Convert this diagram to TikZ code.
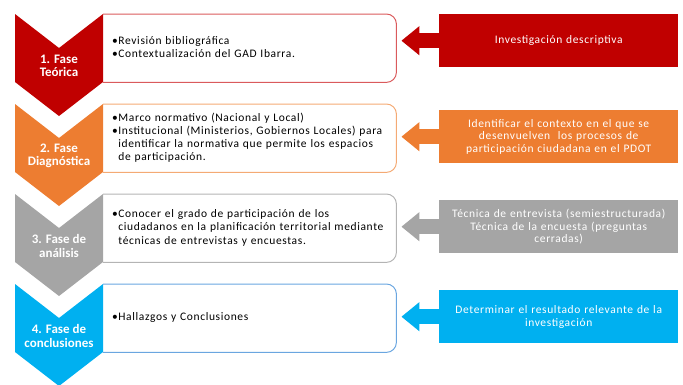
\documentclass[tikz,border=0pt]{standalone}
\usepackage{fontspec}
\setmainfont{Carlito}
\newfontfamily\spacedfont[LetterSpace=5.5]{Carlito}
\usetikzlibrary{arrows.meta}
\definecolor{cRed}{HTML}{C00000}
\definecolor{cRedB}{HTML}{DA5A5C}
\definecolor{cOra}{HTML}{ED7D31}
\definecolor{cOraB}{HTML}{F4AA74}
\definecolor{cGry}{HTML}{A5A5A5}
\definecolor{cGryB}{HTML}{B4B4B4}
\definecolor{cBlu}{HTML}{00B0F0}
\definecolor{cBluB}{HTML}{6AA6E0}
\tikzset{
  phasetext/.style={text=white, font=\bfseries\fontsize{13}{13.5}\selectfont, align=center, inner sep=0pt},
  boxnode/.style={anchor=north west, minimum width=289pt, minimum height=68pt, inner xsep=9pt, inner ysep=0pt, text width=275pt, align=left, font=\spacedfont\fontsize{11.5}{13.2}\selectfont},
  boxborder/.style={draw=#1, line width=1pt, rounded corners=10pt},
  sidebox/.style={fill=#1, anchor=north west, minimum width=239pt, minimum height=53pt, text width=233pt, align=center, text=white, font=\spacedfont\fontsize{11.5}{12.6}\selectfont, inner sep=0pt},
  blockarrow/.style={draw=#1, line width=15pt, -{Triangle[length=18pt,width=28pt]}, shorten >=5pt},
}
\newcommand{\mychevron}[2]{%
  \fill[#2] (15,#1) -- (59,{#1+34}) -- (103,#1) -- (103,{#1+68}) -- (59,{#1+102}) -- (15,{#1+68}) -- cycle;}
\begin{document}
\begin{tikzpicture}[x=1pt,y=-1pt]
\useasboundingbox (0,0) rectangle (683,384);
\clip (0,0) rectangle (683,384);
% content boxes
\node[boxnode] (b1) at (103,14) {\begin{tabular}{@{}l@{\hspace{0.5pt}}l@{}}\textbullet&Revisión bibliográfica\\ \textbullet&Contextualización del GAD Ibarra.\end{tabular}};
\node[boxnode] (b2) at (103,104) {\begin{tabular}{@{}l@{\hspace{0.5pt}}l@{}}\textbullet&Marco normativo (Nacional y Local)\\ \textbullet&Institucional (Ministerios, Gobiernos Locales) para\\ &identificar la normativa que permite los espacios\\ &de participación.\end{tabular}};
\node[boxnode] (b3) at (103,194) {\begin{tabular}{@{}l@{\hspace{0.5pt}}l@{}}\textbullet&Conocer el grado de participación de los\\ &ciudadanos en la planificación territorial mediante\\ &técnicas de entrevistas y encuestas.\end{tabular}};
\node[boxnode] (b4) at (103,284) {\begin{tabular}{@{}l@{\hspace{0.5pt}}l@{}}\textbullet&Hallazgos y Conclusiones\end{tabular}};
\draw[boxborder=cRedB] (b1.north west) -- (b1.north east) -- (b1.south east) -- (b1.south west);
\draw[boxborder=cOraB] (b2.north west) -- (b2.north east) -- (b2.south east) -- (b2.south west);
\draw[boxborder=cGryB] (b3.north west) -- (b3.north east) -- (b3.south east) -- (b3.south west);
\draw[boxborder=cBluB] (b4.north west) -- (b4.north east) -- (b4.south east) -- (b4.south west);
% chevrons
\mychevron{14}{cRed}
\mychevron{104}{cOra}
\mychevron{194}{cGry}
\mychevron{284}{cBlu}
\node[phasetext] (p1) at (59,66) {1. Fase\\Teórica};
\node[phasetext] (p2) at (59,156) {2. Fase\\Diagnóstica};
\node[phasetext] (p3) at (59,246) {3. Fase de\\análisis};
\node[phasetext] (p4) at (59,336) {4. Fase de\\conclusiones};
% side boxes
\node[sidebox=cRed] (r1) at (439,14) {Investigación descriptiva};
\node[sidebox=cOra] (r2) at (439,110) {Identificar el contexto en el que se\\desenvuelven\ \ los procesos de\\participación ciudadana en el PDOT};
\node[sidebox=cGry] (r3) at (439,200) {Técnica de entrevista (semiestructurada)\\Técnica de la encuesta (preguntas\\cerradas)};
\node[sidebox=cBlu] (r4) at (439,290) {Determinar el resultado relevante de la\\investigación};
% arrows
\draw[blockarrow=cRed] (r1.west) -- (r1.west -| b1.east);
\draw[blockarrow=cOra] (r2.west) -- (r2.west -| b2.east);
\draw[blockarrow=cGry] (r3.west) -- (r3.west -| b3.east);
\draw[blockarrow=cBlu] (r4.west) -- (r4.west -| b4.east);
\end{tikzpicture}
\end{document}
